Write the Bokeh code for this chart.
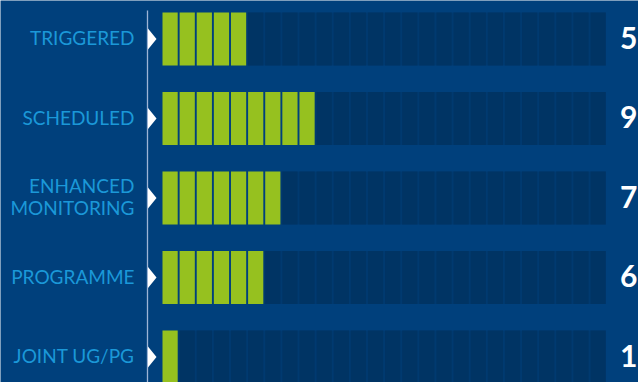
from bokeh.plotting import figure
from bokeh.models import Range1d, ColumnDataSource
from bokeh.embed import file_html
from bokeh.resources import INLINE
from bokeh.core.properties import value

# ---- data ----
categories = ["TRIGGERED", "SCHEDULED", "ENHANCED\nMONITORING", "PROGRAMME", "JOINT UG/PG"]
counts = [5, 9, 7, 6, 1]
count_labels = ["5", "9", "7", "6", "1"]
total_blocks = 26

# ---- styling / layout constants ----
W, H = 638, 382
BG = "#00407c"
GREEN = "#96c11f"
DARK = "#003464"
TRACK = "#003a70"
LABEL = "#1b98d8"
AXIS = "#9db4d6"

PITCH = 17.12          # px per block
X0 = 162.0             # px where first block starts
ROW = 79.5             # px per row
C0 = 38.5              # px centre of first row
BLOCK_W = 15.2 / PITCH
HALF_H = 26.5 / ROW


def px_x(px):
    return (px - X0) / PITCH


p = figure(width=W, height=H, output_backend="svg", toolbar_location=None,
           x_range=Range1d(px_x(0), px_x(W)),
           y_range=Range1d(-(H - C0) / ROW, C0 / ROW),
           min_border=0, min_border_left=0, min_border_right=0,
           min_border_top=0, min_border_bottom=0)
p.axis.visible = False
p.grid.visible = False
p.outline_line_color = None
p.background_fill_color = BG
p.border_fill_color = BG

# tracks and blocks
tl, tr, tt, tb = [], [], [], []
gl, gr, gt, gb = [], [], [], []
dl, dr, dt, db = [], [], [], []
for i, v in enumerate(counts):
    yc = -i
    tl.append(v - (1 - BLOCK_W) if v > 0 else 0)
    tr.append(total_blocks - 1 + BLOCK_W)
    tt.append(yc + HALF_H)
    tb.append(yc - HALF_H)
    for j in range(total_blocks):
        if j < v:
            gl.append(j); gr.append(j + BLOCK_W); gt.append(yc + HALF_H); gb.append(yc - HALF_H)
        else:
            dl.append(j); dr.append(j + BLOCK_W); dt.append(yc + HALF_H); db.append(yc - HALF_H)

p.quad(left=tl, right=tr, top=tt, bottom=tb, fill_color=TRACK, line_color=None)
p.quad(left=dl, right=dr, top=dt, bottom=db, fill_color=DARK, line_color=None)
p.quad(left=gl, right=gr, top=gt, bottom=gb, fill_color=GREEN, line_color=None)

# axis line
ax_x = px_x(147)
p.segment(x0=[ax_x], y0=[(C0 - 10) / ROW], x1=[ax_x], y1=[-(H - C0) / ROW],
          line_color=AXIS, line_width=1.3)

# arrows
arrow_xs, arrow_ys = [], []
ah = 10.5 / ROW
for i in range(len(categories)):
    yc = -i
    arrow_xs.append([px_x(147.5), px_x(147.5), px_x(156)])
    arrow_ys.append([yc + ah, yc - ah, yc])
p.patches(xs=arrow_xs, ys=arrow_ys, fill_color="white", line_color=None)

# category labels
src = ColumnDataSource(dict(x=[px_x(134)] * len(categories),
                            y=[-i + 1.5 / ROW for i in range(len(categories))],
                            t=categories))
p.text(x="x", y="y", text="t", source=src, text_align="right", text_baseline="middle",
       text_color=LABEL, text_font=value("Lato"), text_font_size="19px",
       text_line_height=0.95)

# value labels
src2 = ColumnDataSource(dict(x=[px_x(637)] * len(counts),
                             y=[-i + 1.5 / ROW for i in range(len(counts))],
                             t=count_labels))
p.text(x="x", y="y", text="t", source=src2, text_align="right", text_baseline="middle",
       text_color="white", text_font=value("Lato"), text_font_size="30px",
       text_font_style="bold")

open("out.html", "w").write(file_html(p, INLINE))
